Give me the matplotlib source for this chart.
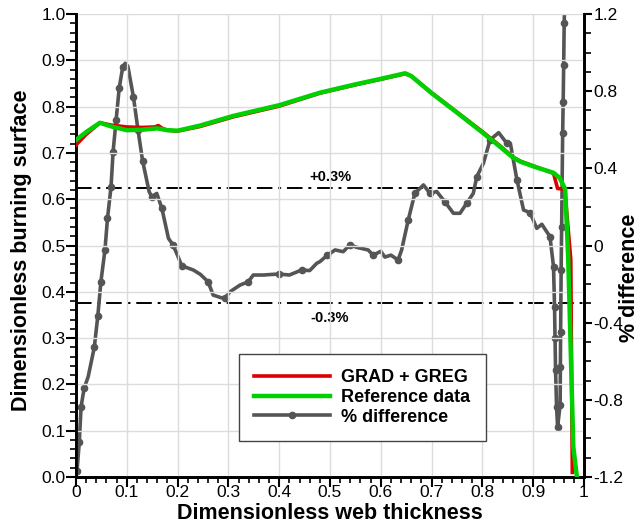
import matplotlib
matplotlib.use("Agg")
import matplotlib.pyplot as plt
from matplotlib.ticker import MultipleLocator, FixedLocator

plt.rcParams['font.family'] = ['Liberation Sans', 'DejaVu Sans']

# ---- data ----
ref_x = [0.0, 0.02, 0.047, 0.07, 0.1, 0.13, 0.16, 0.18, 0.2, 0.244, 0.31, 0.4, 0.48,
         0.55, 0.6, 0.648, 0.66, 0.70, 0.75, 0.80, 0.835, 0.86, 0.875, 0.90, 0.94,
         0.952, 0.963, 0.969, 0.979, 0.986]
ref_y = [0.728, 0.745, 0.765, 0.757, 0.749, 0.750, 0.753, 0.749, 0.748, 0.759, 0.780,
         0.803, 0.830, 0.848, 0.860, 0.872, 0.866, 0.829, 0.787, 0.744, 0.713, 0.690,
         0.681, 0.671, 0.657, 0.646, 0.622, 0.47, 0.065, 0.0]

grad_x = [0.0, 0.02, 0.047, 0.07, 0.1, 0.13, 0.155, 0.162, 0.17, 0.18, 0.2, 0.244, 0.31,
          0.4, 0.48, 0.55, 0.6, 0.648, 0.66, 0.70, 0.75, 0.80, 0.835, 0.86, 0.875, 0.90,
          0.94, 0.948, 0.962, 0.974, 0.977]
grad_y = [0.717, 0.740, 0.765, 0.760, 0.756, 0.755, 0.756, 0.759, 0.753, 0.749, 0.747,
          0.757, 0.778, 0.801, 0.829, 0.847, 0.859, 0.871, 0.866, 0.830, 0.788, 0.746,
          0.715, 0.691, 0.682, 0.672, 0.656, 0.623, 0.622, 0.47, 0.01]

pct_x = [0.002, 0.0065, 0.01, 0.016, 0.024, 0.036, 0.043, 0.049, 0.057, 0.062, 0.069,
         0.073, 0.079, 0.085, 0.092, 0.097, 0.102, 0.113, 0.122, 0.131, 0.144, 0.149,
         0.159, 0.169, 0.182, 0.191, 0.201, 0.208, 0.231, 0.245, 0.26, 0.27, 0.285,
         0.293, 0.303, 0.323, 0.339, 0.349, 0.37, 0.385, 0.40, 0.42, 0.444, 0.46, 0.474,
         0.48, 0.495, 0.51, 0.526, 0.539, 0.553, 0.575, 0.585, 0.60, 0.608, 0.62, 0.634,
         0.641, 0.654, 0.667, 0.684, 0.697, 0.71, 0.726, 0.743, 0.756, 0.769, 0.782,
         0.789, 0.802, 0.815, 0.832, 0.848, 0.855, 0.868, 0.881, 0.894, 0.907, 0.917,
         0.933, 0.94, 0.942, 0.943, 0.944, 0.946, 0.948, 0.953, 0.9535, 0.954, 0.955,
         0.956, 0.958, 0.959, 0.960, 0.961, 0.962]
pct_y = [-1.17, -1.017, -0.836, -0.74, -0.68, -0.528, -0.364, -0.188, -0.023, 0.141, 0.305,
         0.486, 0.651, 0.815, 0.925, 0.945, 0.93, 0.771, 0.60, 0.44, 0.279, 0.253,
         0.27, 0.193, 0.037, 0.003, -0.058, -0.105, -0.127, -0.15, -0.188, -0.257, -0.27,
         -0.274, -0.24, -0.205, -0.188, -0.153, -0.153, -0.15, -0.148, -0.153, -0.127, -0.13, -0.092,
         -0.084, -0.05, -0.023, -0.032, 0.003, -0.01, -0.023, -0.05, -0.03, -0.06, -0.05, -0.075,
         -0.023, 0.132, 0.27, 0.314, 0.27, 0.28, 0.227, 0.167, 0.167, 0.219, 0.27,
         0.357, 0.426, 0.547, 0.585, 0.53, 0.53, 0.34, 0.184, 0.17, 0.089, 0.11,
         0.046, -0.11, -0.317, -0.48, -0.645, -0.836, -0.94, -0.827, -0.628, -0.447, -0.127,
         0.098, 0.582, 0.746, 0.936, 1.152, 1.25]

band = [0.3, -0.3]
band_labels = ["+0.3%", "-0.3%"]
x_ticks = [0, 0.1, 0.2, 0.3, 0.4, 0.5, 0.6, 0.7, 0.8, 0.9, 1.0]
x_tick_labels = ["0", "0.1", "0.2", "0.3", "0.4", "0.5", "0.6", "0.7", "0.8", "0.9", "1"]
yl_ticks = [0.0, 0.1, 0.2, 0.3, 0.4, 0.5, 0.6, 0.7, 0.8, 0.9, 1.0]
yr_ticks = [-1.2, -0.8, -0.4, 0, 0.4, 0.8, 1.2]
yr_tick_labels = ["-1.2", "-0.8", "-0.4", "0", "0.4", "0.8", "1.2"]

# ---- figure ----
fig = plt.figure(figsize=(6.42, 5.29), dpi=100)
ax = fig.add_axes([76/642, 1-477/529, 508/642, 463/529])
ax2 = ax.twinx()

ax.set_zorder(ax2.get_zorder() + 1)
ax.patch.set_visible(False)

ax.set_xlim(0, 1)
ax.set_ylim(0, 1)
ax2.set_ylim(-1.2, 1.2)

ax.grid(True, which='major', color='#dcdcdc', linewidth=1.0, zorder=0)
ax.set_axisbelow(True)

# % difference
gray = '#555555'
l3, = ax2.plot(pct_x, pct_y, color=gray, lw=2.6, marker='o', ms=4.5,
               markevery=0.042, label='% difference', zorder=3)
for v, t in zip(band, band_labels):
    ax2.axhline(v, color='black', lw=1.4, linestyle=(0, (8, 3, 1.5, 3)), zorder=2)
ax2.text(0.5, band[0] + 0.02, band_labels[0], ha='center', va='bottom',
         fontsize=10.5, fontweight='bold')
ax2.text(0.5, band[1] - 0.04, band_labels[1], ha='center', va='top',
         fontsize=10.5, fontweight='bold')

# burning surface
l1, = ax.plot(grad_x, grad_y, color='#dd0000', lw=2.6, label='GRAD + GREG', zorder=3)
l2, = ax.plot(ref_x, ref_y, color='#00d000', lw=3.2, label='Reference data', zorder=4)

# ticks
ax.xaxis.set_major_locator(FixedLocator(x_ticks))
ax.set_xticklabels(x_tick_labels)
ax.xaxis.set_minor_locator(MultipleLocator(0.02))
ax.yaxis.set_major_locator(FixedLocator(yl_ticks))
ax.set_yticklabels([f"{v:.1f}" for v in yl_ticks])
ax.yaxis.set_minor_locator(MultipleLocator(0.02))
ax2.yaxis.set_major_locator(FixedLocator(yr_ticks))
ax2.set_yticklabels(yr_tick_labels)
ax2.yaxis.set_minor_locator(MultipleLocator(0.1))

ax.tick_params(axis='y', which='major', direction='out', length=7, width=1.5,
               labelsize=12.5, pad=0.3, left=True, right=False)
ax.tick_params(axis='y', which='minor', direction='out', length=4, width=1.2, right=False)
ax.tick_params(axis='x', which='major', direction='out', length=7, width=1.5,
               labelsize=12.5, pad=-1.0, top=False)
ax.tick_params(axis='x', which='minor', direction='out', length=4, width=1.2, top=False)
ax2.tick_params(axis='y', which='major', direction='out', length=6, width=1.5,
                labelsize=12.5, pad=1.0)
ax2.tick_params(axis='y', which='minor', direction='out', length=5, width=1.2)

for a in (ax, ax2):
    a.spines['top'].set_visible(False)
    for s in ('left', 'right', 'bottom'):
        a.spines[s].set_linewidth(2.0)
        a.spines[s].set_color('black')

ax.set_xlabel('Dimensionless web thickness', fontsize=15.5, fontweight='bold', labelpad=2)
ax.set_ylabel('Dimensionless burning surface', fontsize=15.5, fontweight='bold')
ax.yaxis.set_label_coords(-0.087, 0.49)
ax2.set_ylabel('% difference', fontsize=15.5, fontweight='bold', rotation=90)
ax2.yaxis.label.set_verticalalignment('baseline')
ax2.yaxis.set_label_coords(1.101, 0.43)

leg = ax.legend(handles=[l1, l2, l3], loc='upper left', bbox_to_anchor=(0.321, 0.266),
                prop={'weight': 'bold', 'size': 13}, fancybox=False, framealpha=1,
                edgecolor='#444444', handlelength=4.2, handletextpad=0.6,
                borderpad=0.85, labelspacing=0.15, borderaxespad=0)
leg.get_frame().set_linewidth(1.0)

fig.savefig('out.png', dpi=100)
